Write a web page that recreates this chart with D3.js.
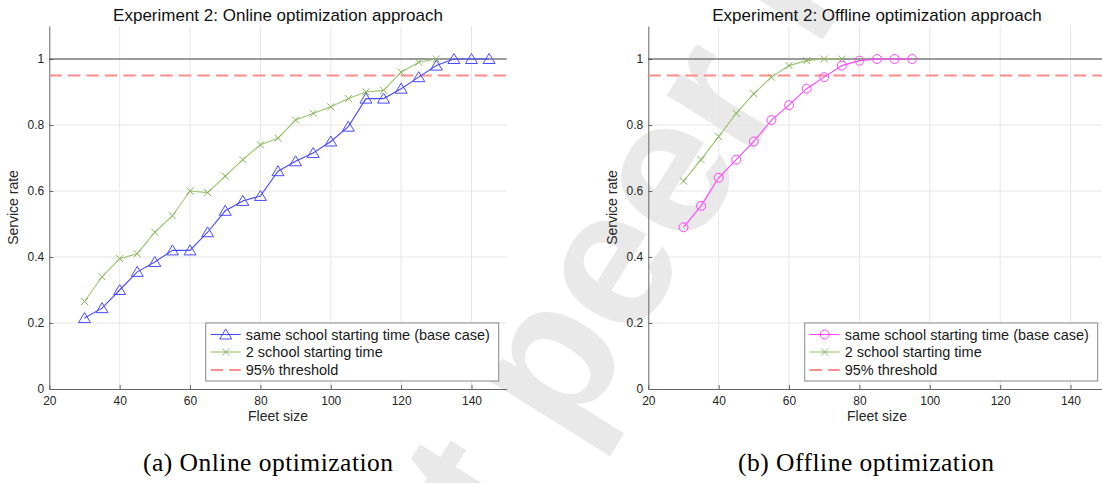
<!DOCTYPE html>
<html>
<head>
<meta charset="utf-8">
<script src="https://cdn.jsdelivr.net/npm/d3@7"></script>
<style>
  html, body { margin:0; padding:0; background:#fff; }
  svg { display:block; font-family:"Liberation Sans", Arial, Helvetica, sans-serif; }
</style>
</head>
<body>
<svg id="chart" width="1102" height="483"></svg>
<script>
// fleet sizes and service rates
const onlineBaseX = [30, 35, 40, 45, 50, 55, 60, 65, 70, 75, 80, 85, 90, 95, 100, 105, 110, 115, 120, 125, 130, 135, 140, 145];
const onlineBaseY = [0.215, 0.245, 0.30, 0.355, 0.385, 0.42, 0.42, 0.475, 0.54, 0.57, 0.585, 0.66, 0.69, 0.715, 0.75, 0.795, 0.88, 0.88, 0.91, 0.945, 0.98, 1.0, 1.0, 1.0];
const onlineTwoX = [30, 35, 40, 45, 50, 55, 60, 65, 70, 75, 80, 85, 90, 95, 100, 105, 110, 115, 120, 125, 130];
const onlineTwoY = [0.265, 0.34, 0.395, 0.41, 0.475, 0.525, 0.60, 0.595, 0.645, 0.695, 0.74, 0.76, 0.815, 0.835, 0.855, 0.88, 0.90, 0.905, 0.96, 0.99, 1.0];

const offlineBaseX = [30, 35, 40, 45, 50, 55, 60, 65, 70, 75, 80, 85, 90, 95];
const offlineBaseY = [0.49, 0.555, 0.64, 0.695, 0.75, 0.815, 0.86, 0.91, 0.945, 0.98, 0.995, 1.0, 1.0, 1.0];
const offlineTwoX = [30, 35, 40, 45, 50, 55, 60, 65, 70, 75];
const offlineTwoY = [0.63, 0.695, 0.765, 0.835, 0.895, 0.945, 0.98, 0.995, 1.0, 1.0];

const xTicks = [20, 40, 60, 80, 100, 120, 140];
const yTicks = [0, 0.2, 0.4, 0.6, 0.8, 1];
const threshold = 0.95;
const fullRate = 1;

const legendLabels = ["same school starting time (base case)", "2 school starting time", "95% threshold"];
const titles = ["Experiment 2: Online optimization approach", "Experiment 2: Offline optimization approach"];
const captions = ["(a) Online optimization", "(b) Offline optimization"];

const svg = d3.select("#chart");

// watermark behind everything
const wmSize = 195;
const wm = svg.append("g").attr("transform", "translate(440,468) rotate(-58)");
const wmText = wm.append("text")
    .text("not peer reviewed")
    .attr("font-size", wmSize)
    .attr("font-weight", "bold")
    .attr("fill", "#e9e9e9");
const wmNode = wmText.node();
const tCenter = wmNode.getSubStringLength(0, 2) + wmNode.getSubStringLength(2, 1) / 2;
wmText.attr("x", -tCenter).attr("y", 0.5 * wmSize);

function drawPanel(left, right, base, two, marker, baseColor, title, caption) {
    const x = d3.scaleLinear().domain([20, 150]).range([left, right]);
    const y = d3.scaleLinear().domain([0, 1.1]).range([389, 26]);

    const g = svg.append("g");

    // grid
    g.append("g").selectAll("line")
        .data(xTicks.slice(1))
        .enter().append("line")
        .attr("x1", d => x(d)).attr("x2", d => x(d))
        .attr("y1", y(0)).attr("y2", y(1.1))
        .attr("stroke", "#e6e6e6");
    g.append("g").selectAll("line")
        .data(yTicks.slice(1))
        .enter().append("line")
        .attr("x1", x(20)).attr("x2", x(150))
        .attr("y1", d => y(d)).attr("y2", d => y(d))
        .attr("stroke", "#e6e6e6");

    // axes
    const xAxis = g.append("g")
        .attr("transform", `translate(0,${y(0)})`)
        .call(d3.axisBottom(x).tickValues(xTicks).tickSizeInner(-4).tickSizeOuter(0).tickPadding(7));
    const yAxis = g.append("g")
        .attr("transform", `translate(${x(20)},0)`)
        .call(d3.axisLeft(y).tickValues(yTicks).tickFormat(d3.format("~g")).tickSizeInner(-4).tickSizeOuter(0).tickPadding(5));
    [xAxis, yAxis].forEach(a => {
        a.select(".domain").attr("stroke", "#666");
        a.selectAll(".tick line").attr("stroke", "#666");
        a.selectAll(".tick text").attr("fill", "#262626").attr("font-size", 12)
            .attr("font-family", "'Liberation Sans', Arial, sans-serif");
    });

    // reference lines
    g.append("line")
        .attr("x1", x(20)).attr("x2", x(150))
        .attr("y1", y(fullRate)).attr("y2", y(fullRate))
        .attr("stroke", "#444").attr("stroke-width", 1.2);
    g.append("line")
        .attr("x1", x(20)).attr("x2", x(150))
        .attr("y1", y(threshold)).attr("y2", y(threshold))
        .attr("stroke", "#ff8c8c").attr("stroke-width", 2)
        .attr("stroke-dasharray", "12.5,6");

    const line = d3.line().x(d => x(d[0])).y(d => y(d[1]));

    // 2 school starting time
    const twoPts = two.x.map((v, i) => [v, two.y[i]]);
    g.append("path").datum(twoPts)
        .attr("d", line)
        .attr("fill", "none").attr("stroke", "#9cc46e").attr("stroke-width", 1.1);
    g.append("g").selectAll("path")
        .data(twoPts)
        .enter().append("path")
        .attr("transform", d => `translate(${x(d[0])},${y(d[1])})`)
        .attr("d", "M-3.5,-3.5L3.5,3.5M-3.5,3.5L3.5,-3.5")
        .attr("stroke", "#86b25a").attr("stroke-width", 1);

    // base case
    const basePts = base.x.map((v, i) => [v, base.y[i]]);
    g.append("path").datum(basePts)
        .attr("d", line)
        .attr("fill", "none").attr("stroke", baseColor).attr("stroke-width", 1.1);
    g.append("g").selectAll("path")
        .data(basePts)
        .enter().append("path")
        .attr("transform", d => `translate(${x(d[0])},${y(d[1])})`)
        .attr("d", marker)
        .attr("fill", "none").attr("stroke", baseColor).attr("stroke-width", 1);

    // legend
    const lx = x(150) - 301, ly = y(0.2);
    const leg = g.append("g").attr("transform", `translate(${lx},${ly})`);
    leg.append("rect")
        .attr("width", 293).attr("height", 58)
        .attr("fill", "#fff").attr("stroke", "#888").attr("stroke-width", 1);
    const rowY = [11.5, 29, 47];
    leg.append("line").attr("x1", 5).attr("x2", 35).attr("y1", rowY[0]).attr("y2", rowY[0])
        .attr("stroke", baseColor).attr("stroke-width", 1.1);
    leg.append("path").attr("transform", `translate(20,${rowY[0]})`).attr("d", marker)
        .attr("fill", "none").attr("stroke", baseColor);
    leg.append("line").attr("x1", 5).attr("x2", 35).attr("y1", rowY[1]).attr("y2", rowY[1])
        .attr("stroke", "#9cc46e").attr("stroke-width", 1.1);
    leg.append("path").attr("transform", `translate(20,${rowY[1]})`)
        .attr("d", "M-3.5,-3.5L3.5,3.5M-3.5,3.5L3.5,-3.5").attr("stroke", "#86b25a");
    leg.append("line").attr("x1", 5).attr("x2", 35).attr("y1", rowY[2]).attr("y2", rowY[2])
        .attr("stroke", "#ff8c8c").attr("stroke-width", 2).attr("stroke-dasharray", "12.5,6");
    leg.selectAll("text.lbl")
        .data(legendLabels)
        .enter().append("text")
        .attr("class", "lbl")
        .attr("x", 40).attr("y", (d, i) => rowY[i])
        .attr("dy", "0.36em")
        .attr("font-size", 14.5).attr("fill", "#1a1a1a")
        .text(d => d);

    // labels
    const cx = (left + right) / 2;
    g.append("text").attr("x", cx).attr("y", 20.5)
        .attr("text-anchor", "middle").attr("font-size", 17).attr("fill", "#111")
        .text(title);
    g.append("text").attr("x", cx).attr("y", 421)
        .attr("text-anchor", "middle").attr("font-size", 14).attr("fill", "#262626")
        .text("Fleet size");
    g.append("text")
        .attr("transform", `translate(${left - 31},${(y(0) + y(1.1)) / 2}) rotate(-90)`)
        .attr("text-anchor", "middle").attr("font-size", 14).attr("fill", "#262626")
        .text("Service rate");

    svg.append("text").attr("x", caption.cx).attr("y", 471)
        .attr("text-anchor", "middle")
        .attr("font-family", "'Liberation Serif', 'DejaVu Serif', serif")
        .attr("font-size", 25.5).attr("fill", "#000")
        .attr("textLength", caption.w).attr("lengthAdjust", "spacing")
        .text(caption.text);
}

const triangle = "M0,-5.5L6,4.5L-6,4.5Z";
const circle = d3.symbol().type(d3.symbolCircle).size(Math.PI * 20)();

drawPanel(49.3, 506.7,
    { x: onlineBaseX, y: onlineBaseY },
    { x: onlineTwoX, y: onlineTwoY },
    triangle, "#4a4aff", titles[0], { text: captions[0], cx: 268, w: 250 });

drawPanel(648.3, 1105.7,
    { x: offlineBaseX, y: offlineBaseY },
    { x: offlineTwoX, y: offlineTwoY },
    circle, "#ff44ff", titles[1], { text: captions[1], cx: 866, w: 256 });
</script>
</body>
</html>
